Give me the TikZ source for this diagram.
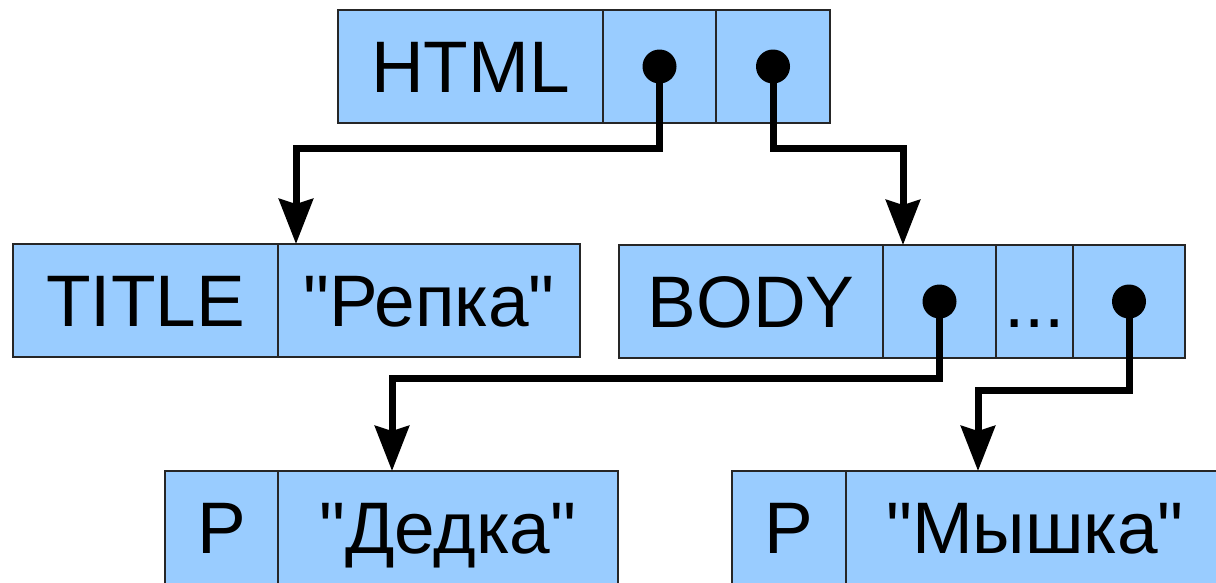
\documentclass[tikz,border=0pt]{standalone}
\usepackage{fontspec}
\newfontfamily\cellfont{Liberation Sans}
\usetikzlibrary{arrows.meta,positioning}
\definecolor{cellblue}{RGB}{153,204,255}

\begin{document}
\begin{tikzpicture}[x=1pt, y=-1pt, node distance=0pt,
	cell/.style={draw=black!85, fill=cellblue, line width=1.2pt, minimum height=113pt,
		inner sep=0pt, outer sep=0pt, text height=52pt, text depth=0pt,
		font=\cellfont\fontsize{73}{80}\selectfont},
	dot/.style={circle, fill=black, minimum size=34pt, inner sep=0pt},
	ptr/.style={line width=7pt, -{Stealth[length=45pt, width=34pt, inset=5pt]}}]
	\useasboundingbox (0,0) rectangle (1216,582);
	% HTML
	\node[cell, minimum width=265pt, anchor=north west] (html) at (338,10) {HTML};
	\node[cell, minimum width=113pt, right=of html] (hp1) {};
	\node[cell, minimum width=114pt, right=of hp1] (hp2) {};
	\node[dot] (hd1) at (hp1) {};
	\node[dot] (hd2) at (hp2) {};
	% TITLE
	\node[cell, minimum width=265pt, anchor=north west] (title) at (13,244) {TITLE};
	\node[cell, minimum width=302pt, right=of title] (repka) {"Репка"};
	% BODY
	\node[cell, minimum width=264pt, anchor=north west] (body) at (619,245) {BODY};
	\node[cell, minimum width=113pt, right=of body] (bp1) {};
	\node[cell, minimum width=77pt, right=of bp1] (bdots) {...};
	\node[cell, minimum width=112pt, right=of bdots] (bp2) {};
	\node[dot] (bd1) at (bp1) {};
	\node[dot] (bd2) at (bp2) {};
	% P
	\node[cell, minimum width=113pt, anchor=north west] (p1) at (165,471) {P};
	\node[cell, minimum width=340pt, right=of p1] (dedka) {"Дедка"};
	\node[cell, minimum width=114pt, anchor=north west] (p2) at (732,471) {P};
	\node[cell, minimum width=378pt, right=of p2] (myshka) {"Мышка"};
	% arrow ends
	\coordinate (t1) at ([xshift=18pt]repka.north west);
	\coordinate (t2) at ([xshift=20pt]bp1.north west);
	\coordinate (t3) at ([xshift=114pt]dedka.north west);
	\coordinate (t4) at ([xshift=132pt]myshka.north west);
	\draw[ptr] (hd1.center) -- ++(0,82) -| (t1);
	\draw[ptr] (hd2.center) -- ++(0,82) -| (t2);
	\draw[ptr] (bd1.center) -- ++(0,77) -| (t3);
	\draw[ptr] (bd2.center) -- ++(0,89) -| (t4);
\end{tikzpicture}
\end{document}
